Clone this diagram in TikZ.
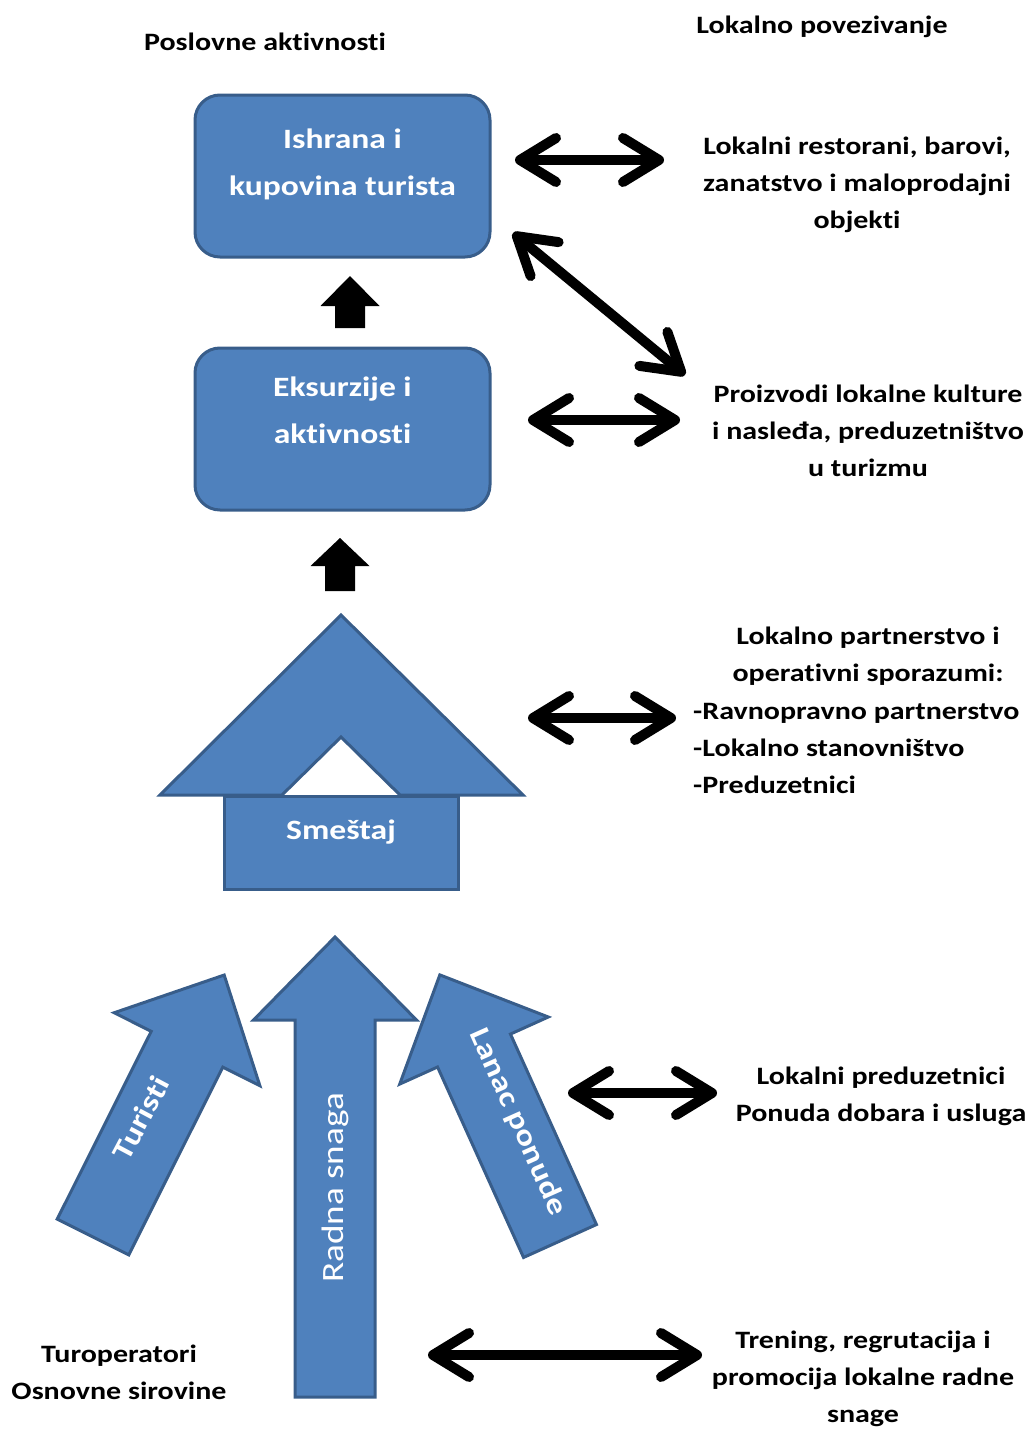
\documentclass[tikz,border=0pt]{standalone}
\usepackage{fontspec}
\setmainfont{Carlito}[FakeStretch=1.2, Ligatures=NoCommon]
\usetikzlibrary{arrows.meta}

\definecolor{boxfill}{HTML}{4F81BD}
\definecolor{boxedge}{HTML}{385D8A}

% block arrow: tail centre (#1,#2), direction #3 (degrees), length #4
\newcommand\drawblockarrow[4]{%
  \begin{scope}[shift={(#1,#2)}, rotate=#3]
    \draw[blueshape] (0,40) -- (#4-83,40) -- (#4-83,81.5) -- (#4,0)
      -- (#4-83,-81.5) -- (#4-83,-40) -- (0,-40) -- cycle;
  \end{scope}}

\begin{document}
\begin{tikzpicture}[x=1pt,y=-1pt,
  blueshape/.style={draw=boxedge, fill=boxfill, line width=3pt, line join=miter},
  stagebox/.style={draw=boxedge, fill=boxfill, line width=3pt, rounded corners=25pt,
    minimum width=295pt, minimum height=162pt, inner sep=0pt},
  boxtext/.style={text=white, font=\fontsize{28}{47}\selectfont\bfseries, align=center, inner sep=0pt},
  sidetext/.style={font=\fontsize{25}{37}\selectfont\bfseries, align=center, inner sep=0pt},
  arrowtext/.style={text=white, font=\fontsize{29}{34}\selectfont\bfseries, inner sep=0pt},
  link/.style={line width=10pt,
    {Straight Barb[length=36pt,width=44pt,round]}-{Straight Barb[length=36pt,width=44pt,round]}},
  solidup/.style={fill=black, draw=none}]

\useasboundingbox (0,0) rectangle (1031,1429);

% column headings
\node[sidetext] (hbus) at (265,42) {Poslovne aktivnosti};
\node[sidetext] (hloc) at (822,27) {Lokalno povezivanje};

% business stages
\node[stagebox] (food) at (342.5,176) {};
\node[boxtext] (foodt) at (342.5,164.5) {Ishrana i\\kupovina turista};
\node[stagebox] (trips) at (342.5,429) {};
\node[boxtext] (tripst) at (342.5,410) {Eksurzije i\\aktivnosti};

% solid arrows between stages
\fill[solidup] (350,276) -- (379.5,306) -- (365,306) -- (365,328) -- (335,328)
  -- (335,306) -- (320.5,306) -- cycle;
\fill[solidup] (340,538) -- (369.5,566) -- (355,566) -- (355,591) -- (325,591)
  -- (325,566) -- (310.5,566) -- cycle;

% accommodation house
\draw[blueshape] (160,795) -- (341,615) -- (523,795) -- (400,795) -- (341,737)
  -- (282,795) -- cycle;
\node[blueshape, minimum width=234pt, minimum height=93pt, inner sep=0pt] (lodge) at (341,843) {};
\node[boxtext] (lodget) at (341,832) {Smeštaj};

% input arrows
\drawblockarrow{93}{1237}{63.4}{293}
\drawblockarrow{335}{1397}{90}{460}
\drawblockarrow{560}{1241}{114.3}{292}
\node[arrowtext, rotate=62] (tourists) at (141,1118) {Turisti};
\node[text=white, font=\fontsize{31}{36}\selectfont, inner sep=0pt, rotate=90] (labour) at (335,1188) {Radna snaga};
\node[arrowtext, rotate=-66] (supply) at (518,1122) {Lanac ponude};

% local linkages
\node[sidetext] (rest) at (857,185) {Lokalni restorani, barovi,\\zanatstvo i maloprodajni\\objekti};
\node[sidetext] (cult) at (868,431) {Proizvodi lokalne kulture\\i nasleđa, preduzetništvo\\u turizmu};
\node[sidetext] (part) at (868,656) {Lokalno partnerstvo i\\operativni sporazumi:};
\node[sidetext, align=left, anchor=west] (partl) at (693,748) {-Ravnopravno partnerstvo\\-Lokalno stanovništvo\\-Preduzetnici};
\node[sidetext] (entr) at (881,1096) {Lokalni preduzetnici\\Ponuda dobara i usluga};
\node[sidetext] (train) at (863,1379) {Trening, regrutacija i\\promocija lokalne radne\\snage};
\node[sidetext] (oper) at (119,1372) {Turoperatori\\Osnovne sirovine};

% two-way linkage arrows
\coordinate (a1s) at (515,160);  \coordinate (a1e) at (664,160);
\coordinate (a2s) at (513,233);  \coordinate (a2e) at (685,375);
\coordinate (a3s) at (528,420);  \coordinate (a3e) at (680,420);
\coordinate (a4s) at (528,718);  \coordinate (a4e) at (676,718);
\coordinate (a5s) at (568,1093); \coordinate (a5e) at (717,1093);
\coordinate (a6s) at (428,1355); \coordinate (a6e) at (702,1355);
\draw[link] (a1s) -- (a1e);
\draw[link] (a2s) -- (a2e);
\draw[link] (a3s) -- (a3e);
\draw[link] (a4s) -- (a4e);
\draw[link] (a5s) -- (a5e);
\draw[link] (a6s) -- (a6e);

\end{tikzpicture}
\end{document}
